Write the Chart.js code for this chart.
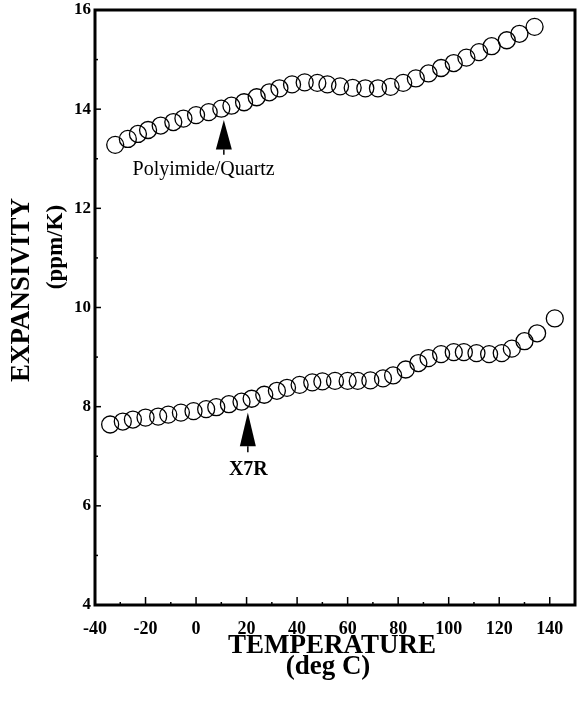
<!DOCTYPE html>
<html>
<head>
<meta charset="utf-8">
<script src="https://cdn.jsdelivr.net/npm/chart.js@4"></script>
<style>
  html, body { margin: 0; padding: 0; background: #fff; }
  #wrap { width: 580px; height: 714px; }
</style>
</head>
<body>
<div id="wrap"><canvas id="cteChart"></canvas></div>
<script>
// values
const polyTemp = [-32, -27, -23, -19, -14, -9, -5, 0, 5, 10, 14, 19, 24, 29, 33, 38, 43, 48, 52, 57,
  62, 67, 72, 77, 82, 87, 92, 97, 102, 107, 112, 117, 123, 128, 134];
const polyCte = [13.28, 13.40, 13.50, 13.58, 13.67, 13.74, 13.81, 13.88, 13.94, 14.01, 14.07, 14.14,
  14.24, 14.34, 14.42, 14.50, 14.54, 14.53, 14.50, 14.46, 14.43, 14.42, 14.42, 14.45, 14.53, 14.62,
  14.72, 14.83, 14.93, 15.04, 15.15, 15.27, 15.39, 15.52, 15.66];

const x7rTemp = [-34, -29, -25, -20, -15, -11, -6, -1, 4, 8, 13, 18, 22, 27, 32, 36, 41, 46, 50, 55,
  60, 64, 69, 74, 78, 83, 88, 92, 97, 102, 106, 111, 116, 121, 125, 130, 135, 142];
const x7rCte = [7.64, 7.70, 7.74, 7.78, 7.80, 7.84, 7.88, 7.91, 7.95, 7.99, 8.05, 8.10, 8.16, 8.24,
  8.32, 8.38, 8.44, 8.49, 8.51, 8.52, 8.52, 8.52, 8.53, 8.57, 8.63, 8.75, 8.88, 8.98, 9.06, 9.10,
  9.10, 9.08, 9.06, 9.08, 9.17, 9.32, 9.48, 9.78];

const xTickLabels = [-40, -20, 0, 20, 40, 60, 80, 100, 120, 140];
const yTickLabels = [4, 6, 8, 10, 12, 14, 16];

// arrow annotations
const noteText = ['Polyimide/Quartz', 'X7R'];
const noteArrowX = [11, 20.5];
const noteArrowTip = [13.78, 7.88];
const noteArrowEnd = [13.08, 7.08];
const noteLabelX = [3, 20.7];
const noteLabelY = [12.77, 6.72];

const serif = "'Liberation Serif', 'Times New Roman', serif";

const toPts = (xs, ys) => xs.map((x, i) => ({ x: x, y: ys[i] }));

// frame, inward ticks, arrows and axis titles
const extras = {
  id: 'extras',
  afterDraw(chart) {
    const c = chart.ctx;
    const a = chart.chartArea;
    const xs = chart.scales.x, ys = chart.scales.y;
    c.save();
    c.strokeStyle = '#000';
    c.fillStyle = '#000';

    // ticks pointing into the plot
    c.lineWidth = 1.5;
    xs.ticks.forEach(t => {
      const px = xs.getPixelForValue(t.value);
      if (t.value <= -40 || t.value >= 150) return;
      const len = xTickLabels.includes(t.value) ? 8 : 3;
      c.beginPath(); c.moveTo(px, a.bottom); c.lineTo(px, a.bottom - len); c.stroke();
    });
    ys.ticks.forEach(t => {
      const py = ys.getPixelForValue(t.value);
      if (t.value <= 4 || t.value >= 16) return;
      const len = yTickLabels.includes(t.value) ? 6 : 3;
      c.beginPath(); c.moveTo(a.left, py); c.lineTo(a.left + len, py); c.stroke();
    });

    // frame
    c.lineWidth = 3;
    c.strokeRect(a.left, a.top, a.right - a.left, a.bottom - a.top);

    // arrows + labels
    noteText.forEach((txt, i) => {
      const px = xs.getPixelForValue(noteArrowX[i]);
      const tip = ys.getPixelForValue(noteArrowTip[i]);
      const end = ys.getPixelForValue(noteArrowEnd[i]);
      const head = (end - tip) * 0.85;
      c.beginPath();
      c.moveTo(px, tip);
      c.lineTo(px - 8, tip + head);
      c.lineTo(px + 8, tip + head);
      c.closePath();
      c.fill();
      c.lineWidth = 1.5;
      c.beginPath(); c.moveTo(px, tip + head); c.lineTo(px, end); c.stroke();

      c.font = (i === 1 ? 'bold ' : '') + '20px ' + serif;
      c.textAlign = 'center';
      c.textBaseline = 'middle';
      c.fillText(txt, xs.getPixelForValue(noteLabelX[i]), ys.getPixelForValue(noteLabelY[i]));
    });

    // axis titles
    c.textAlign = 'center';
    c.textBaseline = 'alphabetic';
    c.font = 'bold 27px ' + serif;
    c.fillText('TEMPERATURE', 332, 653);
    c.fillText('(deg C)', 328, 674);

    c.textBaseline = 'middle';
    c.save();
    c.translate(22, 290);
    c.rotate(-Math.PI / 2);
    c.font = 'bold 27px ' + serif;
    c.fillText('EXPANSIVITY', 0, 0);
    c.restore();
    c.save();
    c.translate(56, 247);
    c.rotate(-Math.PI / 2);
    c.font = 'bold 23px ' + serif;
    c.fillText('(ppm/K)', 0, 0);
    c.restore();

    c.restore();
  }
};

const ctx = document.getElementById('cteChart').getContext('2d');
const cteChart = new Chart(ctx, {
  type: 'scatter',
  data: {
    datasets: [{
      label: 'Polyimide/Quartz',
      data: toPts(polyTemp, polyCte),
      borderColor: '#000',
      backgroundColor: 'rgba(0,0,0,0)',
      pointRadius: 8.5,
      pointBorderWidth: 1.3
    }, {
      label: 'X7R',
      data: toPts(x7rTemp, x7rCte),
      borderColor: '#000',
      backgroundColor: 'rgba(0,0,0,0)',
      pointRadius: 8.5,
      pointBorderWidth: 1.3
    }]
  },
  options: {
    responsive: true,
    maintainAspectRatio: false,
    animation: false,
    layout: { autoPadding: false, padding: { top: 10, right: 5, left: 0, bottom: 0 } },
    plugins: {
      legend: { display: false },
      tooltip: { enabled: false }
    },
    scales: {
      x: {
        type: 'linear',
        min: -40,
        max: 150,
        afterFit: s => { s.height = 109; s.paddingLeft = 0; s.paddingRight = 0; },
        grid: { display: false, drawTicks: false },
        border: { display: false },
        ticks: {
          stepSize: 10,
          autoSkip: false,
          maxRotation: 0,
          padding: 14,
          color: '#000',
          font: { family: serif, size: 18, weight: 'bold' },
          callback: v => xTickLabels.includes(v) ? String(v) : ''
        }
      },
      y: {
        min: 4,
        max: 16,
        afterFit: s => { s.width = 95; s.paddingTop = 0; s.paddingBottom = 0; },
        grid: { display: false, drawTicks: false },
        border: { display: false },
        ticks: {
          stepSize: 1,
          autoSkip: false,
          padding: 4,
          color: '#000',
          font: { family: serif, size: 17, weight: 'bold' },
          callback: v => yTickLabels.includes(v) ? String(v) : ''
        }
      }
    }
  },
  plugins: [extras]
});
</script>
</body>
</html>
